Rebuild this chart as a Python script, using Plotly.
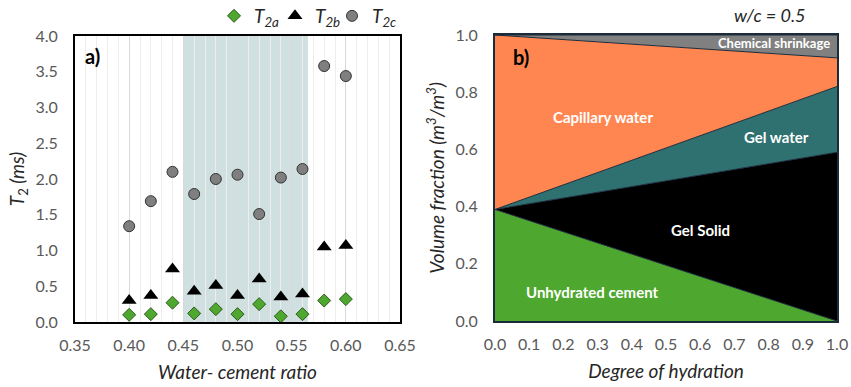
import plotly.graph_objects as go

W, H = 851, 387

# ---------- data: panel a ----------
wc = [0.40, 0.42, 0.44, 0.46, 0.48, 0.50, 0.52, 0.54, 0.56, 0.58, 0.60]
t2a = [0.10, 0.11, 0.27, 0.12, 0.18, 0.11, 0.25, 0.08, 0.11, 0.30, 0.32]
t2b = [0.30, 0.37, 0.74, 0.43, 0.51, 0.37, 0.60, 0.35, 0.39, 1.05, 1.07]
t2c = [1.34, 1.69, 2.10, 1.79, 2.00, 2.06, 1.51, 2.02, 2.14, 3.58, 3.44]
shade_range = [0.45, 0.565]

# ---------- data: panel b ----------
alpha = [0.0, 1.0]
unhydrated_top = [0.39, 0.0]
gel_solid_top = [0.39, 0.59]
gel_water_top = [0.39, 0.82]
capillary_top = [1.0, 0.92]
shrinkage_top = [1.0, 1.0]

FONT = "Lato"
TICKC = "#595959"
TITLEC = "#262626"

def px(x):
    return x / W

def py(y):
    return 1 - y / H

fig = go.Figure()

# panel a traces
fig.add_trace(go.Scatter(x=wc, y=t2a, mode="markers", name="<i>T<sub>2a</sub></i>",
                         marker=dict(symbol="diamond", size=10, color="#4EA72E",
                                     line=dict(color="#2f5a1c", width=1)),
                         legend="legend", xaxis="x", yaxis="y"))
fig.add_trace(go.Scatter(x=wc, y=t2b, mode="markers", name="<i>T<sub>2b</sub></i>",
                         marker=dict(symbol="triangle-up", size=13, color="#000000"),
                         legend="legend2", xaxis="x", yaxis="y"))
fig.add_trace(go.Scatter(x=wc, y=t2c, mode="markers", name="<i>T<sub>2c</sub></i>",
                         marker=dict(symbol="circle", size=11, color="#7F7F7F",
                                     line=dict(color="#333333", width=1)),
                         legend="legend3", xaxis="x", yaxis="y"))

# panel b stacked areas
LC = "#1c2b3a"
areas = [
    (unhydrated_top, "#4EA72E", "tozeroy"),
    (gel_solid_top, "#000000", "tonexty"),
    (gel_water_top, "#2E7170", "tonexty"),
    (capillary_top, "#FF8650", "tonexty"),
    (shrinkage_top, "#808080", "tonexty"),
]
for ys, col, fl in areas:
    fig.add_trace(go.Scatter(x=alpha, y=ys, mode="lines", fill=fl, fillcolor=col,
                             line=dict(color=LC, width=1), showlegend=False,
                             hoverinfo="skip", xaxis="x2", yaxis="y2"))

fig.add_shape(type="rect", xref="x", yref="paper", x0=shade_range[0], x1=shade_range[1],
              y0=py(322), y1=py(36), fillcolor="#D0E0E0", line=dict(width=0), layer="below")

ax_common = dict(showline=True, mirror=True, ticks="", zeroline=False, automargin=False,
                 tickfont=dict(family=FONT, size=16, color=TICKC))
title_font = dict(family=FONT, size=19, color=TITLEC)

def leg(xpx):
    return dict(orientation="h", x=px(xpx), y=py(16), xanchor="left", yanchor="middle",
                font=dict(family=FONT, size=19, color=TITLEC), itemwidth=30,
                bgcolor="rgba(0,0,0,0)")

fig.update_layout(
    width=W, height=H, margin=dict(l=0, r=0, t=0, b=0, autoexpand=False),
    paper_bgcolor="white", plot_bgcolor="white",
    font=dict(family=FONT, color=TITLEC),
    showlegend=True,
    legend=leg(214), legend2=leg(275), legend3=leg(332),
    xaxis=dict(domain=[px(75), px(400)], range=[0.35, 0.65], dtick=0.05, tickformat=".2f",
               linecolor="#000000", linewidth=2, ticklabelstandoff=8,
               showgrid=True, gridcolor="#D9D9D9", gridwidth=1,
               minor=dict(dtick=0.01, showgrid=True, gridcolor="#EDEDED", gridwidth=1),
               title=dict(text="<i>Water- cement ratio</i>", font=title_font, standoff=12),
               anchor="y", **ax_common),
    yaxis=dict(domain=[py(322), py(36)], range=[0, 4], dtick=0.5, tickformat=".1f",
               linecolor="#000000", linewidth=2, showgrid=False, ticklabelstandoff=12,
               title=dict(text="<i>T</i><sub>2</sub><i> (ms)</i>", font=title_font, standoff=6),
               anchor="x", **ax_common),
    xaxis2=dict(domain=[px(495), px(837)], range=[0, 1], dtick=0.1, tickformat=".1f",
                linecolor=LC, linewidth=2, showgrid=False, ticklabelstandoff=8,
                title=dict(text="<i>Degree of hydration</i>", font=title_font, standoff=12),
                anchor="y2", **ax_common),
    yaxis2=dict(domain=[py(321), py(35)], range=[0, 1], dtick=0.2, tickformat=".1f",
                linecolor=LC, linewidth=2, showgrid=False, ticklabelstandoff=12,
                title=dict(text="<i>Volume fraction (m<sup>3</sup>/m<sup>3</sup>)</i>", font=title_font, standoff=6),
                anchor="x2", **ax_common),
)

ann = [
    ("<b>a)</b>", 92, 56, 20, "#000000"),
    ("<b>b)</b>", 521, 57, 20, "#000000"),
    ("<i>w/c = 0.5</i>", 770, 15, 18, TITLEC),
    ("<b>Chemical shrinkage</b>", 774, 43, 13, "#FFFFFF"),
    ("<b>Capillary water</b>", 603, 117, 15, "#FFFFFF"),
    ("<b>Gel water</b>", 776, 137, 15, "#FFFFFF"),
    ("<b>Gel Solid</b>", 700, 230, 15, "#FFFFFF"),
    ("<b>Unhydrated cement</b>", 592, 292, 15, "#FFFFFF"),
]
for txt, x, y, s, c in ann:
    fig.add_annotation(text=txt, xref="paper", yref="paper", x=px(x), y=py(y),
                       xanchor="center", yanchor="middle", showarrow=False,
                       font=dict(family=FONT, size=s, color=c))

fig.write_html("out.html")
